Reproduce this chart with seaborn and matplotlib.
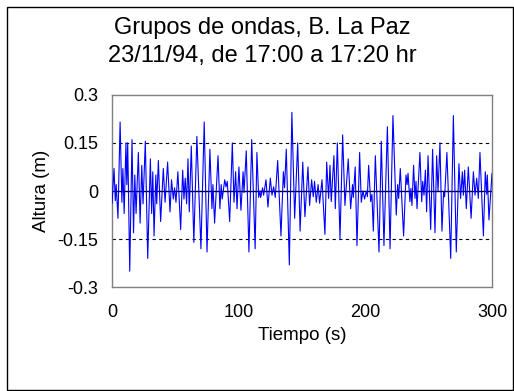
import matplotlib
matplotlib.use("Agg")
import matplotlib.pyplot as plt
import seaborn as sns
import pandas as pd
from matplotlib.patches import Rectangle

# Extremes of the wave record (time s, height m)
tiempo = [0.0, 1.6, 2.6, 3.3, 4.7, 6.4, 7.8, 8.6, 9.6, 11.0, 11.7, 12.4, 14.0, 15.8, 17.0, 18.0, 19.0,
          20.8, 22.2, 23.5, 24.5, 26.3, 28.2, 30.3, 31.3, 32.2, 33.2, 34.6, 35.3, 36.6, 38.4, 40.5, 41.9,
          43.9, 45.8, 47.0, 48.4, 49.4, 50.5, 52.0, 54.2, 55.8, 56.8, 57.8, 58.9, 60.0, 61.0, 62.6, 64.6,
          67.0, 70.2, 72.8, 75.0, 77.3, 78.9, 79.7, 81.0, 83.7, 85.2, 86.2, 87.0, 89.0, 90.0, 91.0, 92.9,
          95.0, 96.3, 97.6, 98.7, 100.2, 101.8, 103.5, 104.2, 106.0, 108.1, 110.3, 113.0, 114.4, 115.8,
          116.8, 117.4, 118.9, 119.7, 121.6, 123.1, 125.0, 126.3, 127.6, 128.9, 130.8, 133.4, 135.3, 136.2,
          137.6, 140.0, 142.0, 144.2, 146.6, 148.5, 150.6, 152.3, 154.7, 156.0, 157.6, 158.9, 159.9, 161.3,
          162.7, 163.9, 165.8, 168.1, 169.5, 171.0, 172.1, 173.1, 175.2, 176.3, 177.9, 180.0, 182.1, 183.9,
          186.5, 188.4, 189.9, 190.5, 192.0, 193.4, 195.5, 196.8, 198.1, 199.4, 200.8, 201.6, 202.6, 204.2,
          205.2, 206.3, 207.9, 210.8, 212.6, 214.7, 217.4, 219.5, 221.8, 224.4, 225.5, 226.3, 227.6, 230.2,
          232.1, 233.0, 233.7, 235.2, 236.0, 236.8, 238.1, 239.2, 240.0, 240.8, 243.1, 244.5, 245.3, 246.3,
          247.4, 248.4, 249.5, 251.6, 253.1, 255.0, 256.3, 257.4, 258.9, 260.5, 261.8, 262.6, 264.4, 267.4,
          269.5, 271.8, 273.9, 275.2, 276.6, 277.4, 278.4, 279.7, 281.3, 283.5, 285.3, 286.6, 287.9, 289.2,
          290.5, 293.2, 294.7, 295.8, 296.3, 297.6, 300.0]
altura = [-0.04, 0.07, -0.03, 0.02, -0.085, 0.215, -0.035, 0.07, -0.07, 0.15, 0.02, 0.15, -0.25, 0.16, -0.13, 0.05, -0.07,
          0.12, -0.10, 0.08, -0.04, 0.155, -0.21, 0.10, -0.07, 0.06, -0.14, 0.05, -0.04, 0.095, -0.095, 0.07, -0.035,
          0.09, -0.065, 0.035, -0.025, 0.01, -0.035, 0.06, -0.12, 0.065, -0.025, 0.04, -0.04, 0.10, -0.065, 0.14, -0.16,
          0.17, -0.18, 0.215, -0.19, 0.13, -0.055, 0.02, -0.10, 0.11, -0.055, 0.02, -0.025, 0.035, 0.013, 0.03, -0.095,
          0.15, -0.035, 0.06, -0.055, 0.075, -0.06, 0.06, -0.005, 0.125, -0.19, 0.16, -0.18, 0.12, -0.02,
          0.0, -0.02, 0.01, -0.013, 0.035, -0.05, 0.04, -0.013, 0.013, -0.02, 0.095, -0.14, 0.06, 0.01,
          0.13, -0.23, 0.245, -0.085, 0.15, -0.125, 0.09, -0.08, 0.075, -0.045, 0.035, -0.018, 0.03, -0.035,
          0.02, -0.038, 0.035, -0.135, 0.09, -0.023, 0.08, -0.033, 0.11, -0.055, 0.15, -0.15, 0.175, -0.045,
          0.10, -0.055, 0.02, -0.02, 0.075, -0.17, 0.12, -0.035, 0.0, -0.025, 0.0, -0.018, 0.08, -0.033,
          -0.01, -0.125, 0.11, -0.19, 0.155, -0.17, 0.20, -0.18, 0.235, -0.075, 0.02, -0.023, 0.07, -0.14,
          0.05, 0.02, 0.055, -0.033, 0.008, -0.045, 0.08, -0.023, 0.03, -0.055, 0.12, -0.033, 0.03, -0.013,
          0.065, -0.065, 0.11, -0.12, 0.13, -0.13, 0.11, 0.0, 0.15, -0.125, -0.002, -0.018, 0.12, -0.21,
          0.235, -0.19, 0.085, -0.023, 0.06, -0.013, 0.065, -0.055, 0.075, -0.085, 0.06, -0.013, 0.04, -0.023,
          0.12, -0.14, 0.06, -0.01, 0.05, -0.09, 0.055]

titulo = ["Grupos de ondas, B. La Paz", "23/11/94, de 17:00 a 17:20 hr"]
xticks = [0, 50, 100, 150, 200, 250, 300]
xlabels = ["0", "", "100", "", "200", "", "300"]
yticks = [-0.3, -0.225, -0.15, -0.075, 0, 0.075, 0.15, 0.225, 0.3]
ylabels = ["-0.3", "", "-0.15", "", "0", "", "0.15", "", "0.3"]

df = pd.DataFrame({"Tiempo": tiempo, "Altura": altura})

sns.set_style("white")
plt.rcParams["font.family"] = ["Liberation Sans", "DejaVu Sans"]
plt.rcParams["text.color"] = "black"
plt.rcParams["axes.labelcolor"] = "black"
plt.rcParams["xtick.color"] = "black"
plt.rcParams["ytick.color"] = "black"

fig = plt.figure(figsize=(5.14, 3.91), dpi=100)
ax = fig.add_axes([0.2179, 0.2652, 0.9572 - 0.2179, 0.7578 - 0.2652])

ax.axhline(0, color="black", lw=1.0, zorder=1)
for v in (0.15, -0.15):
    ax.axhline(v, color="black", lw=0.8, ls=(0, (3, 3)), zorder=1)

sns.lineplot(data=df, x="Tiempo", y="Altura", ax=ax, color="#0000FF", lw=0.8, zorder=3)

ax.set_xlim(0, 300)
ax.set_ylim(-0.3, 0.3)
ax.set_xticks(xticks)
ax.set_xticklabels(xlabels, fontsize=13)
ax.set_yticks(yticks)
ax.set_yticklabels(ylabels, fontsize=13)
ax.tick_params(axis="x", direction="inout", length=6, width=1, color="#404040", pad=9)
ax.tick_params(axis="y", direction="out", length=4, width=1, color="#404040", pad=6)
ax.set_xlabel("Tiempo (s)", fontsize=13.5, labelpad=4, color="black")
ax.set_ylabel("Altura (m)", fontsize=13.5, labelpad=5, color="black")
for s in ax.spines.values():
    s.set_color("#808080")
    s.set_linewidth(1.0)

fig.text(262 / 514, 1 - 28 / 391, titulo[0], ha="center", va="center", fontsize=17, color="black")
fig.text(262 / 514, 1 - 56 / 391, titulo[1], ha="center", va="center", fontsize=17, color="black")

fig.patches.append(Rectangle((6.5 / 514, 1.0 / 391), 506 / 514, 383 / 391, transform=fig.transFigure,
                             fill=False, edgecolor="black", lw=1.0))

fig.savefig("out.png", dpi=100)
